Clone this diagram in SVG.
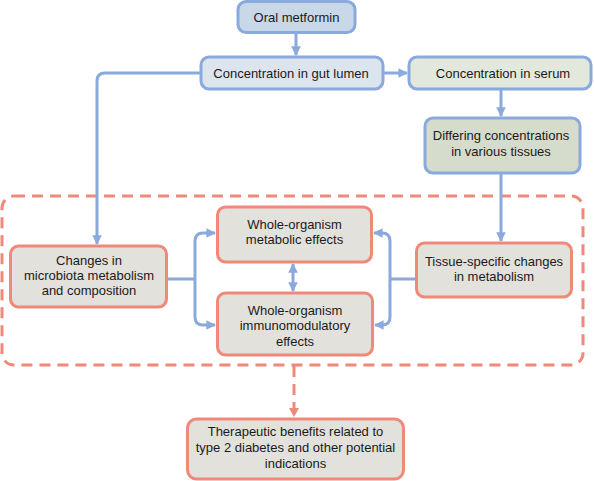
<svg xmlns="http://www.w3.org/2000/svg" width="594" height="481" viewBox="0 0 594 481">
<style>
text{font-family:"Liberation Sans",Arial,sans-serif;font-size:13px;fill:#1a1a1a;text-anchor:middle}
.b{stroke:#8aa9dc;stroke-width:3}
.o{stroke:#f0897a;stroke-width:3;fill:#e3e1dc}
.c{fill:none;stroke:#8aa9dc;stroke-width:3}
.d{fill:none;stroke:#f0897a;stroke-width:3;stroke-dasharray:11 7}
</style>
<defs>
<marker id="a" viewBox="0 0 10 10" refX="9" refY="5" markerWidth="3.2" markerHeight="3.2" orient="auto-start-reverse" markerUnits="strokeWidth">
<path d="M0,0 L10,5 L0,10 z" fill="#8aa9dc"/>
</marker>
</defs>
<rect class="d" x="2" y="196" width="581" height="169" rx="12"/>
<g id="connectors">
<path class="c" d="M296,34 V55" marker-end="url(#a)"/>
<path class="c" d="M384,73 H407" marker-end="url(#a)"/>
<path class="c" d="M501,90 V116" marker-end="url(#a)"/>
<path class="c" d="M501,173 V241" marker-end="url(#a)"/>
<path class="c" d="M201,73 H105 Q97,73 97,81 V244" marker-end="url(#a)"/>
<path class="c" d="M167,279 H195"/>
<path class="c" d="M195,279 V241 Q195,233 203,233 H215" marker-end="url(#a)"/>
<path class="c" d="M195,279 V317 Q195,325 203,325 H215" marker-end="url(#a)"/>
<path class="c" d="M416,279 H390"/>
<path class="c" d="M390,279 V241 Q390,233 382,233 H374" marker-end="url(#a)"/>
<path class="c" d="M390,279 V317 Q390,325 382,325 H375" marker-end="url(#a)"/>
<path class="c" d="M293,264 V291" marker-start="url(#a)" marker-end="url(#a)"/>
<path class="d" d="M294,366 V408" stroke-dasharray="7 5"/>
<path d="M289,408 L294,417 L299,408 z" fill="#f0897a"/>
</g>
<g id="oral">
<rect class="b" x="238" y="1.5" width="117" height="31" rx="8" fill="#c8d8e8"/>
<text x="296.5" y="21.5">Oral metformin</text>
</g>
<g id="gut">
<rect class="b" x="201" y="57" width="182" height="32" rx="8" fill="#dce5ee"/>
<text x="291" y="77.5">Concentration in gut lumen</text>
</g>
<g id="serum">
<rect class="b" x="409" y="57" width="182" height="32" rx="8" fill="#e3e8dc"/>
<text x="503" y="77.5">Concentration in serum</text>
</g>
<g id="tissues">
<rect class="b" x="425" y="118" width="155" height="55" rx="8" fill="#d5dccc"/>
<text x="501" y="140">Differing concentrations</text>
<text x="501" y="156">in various tissues</text>
</g>
<g id="microbiota">
<rect class="o" x="10.5" y="246" width="156" height="61" rx="8"/>
<text x="89" y="265">Changes in</text>
<text x="89" y="280">microbiota metabolism</text>
<text x="89" y="295">and composition</text>
</g>
<g id="metabolic">
<rect class="o" x="217.5" y="207" width="154" height="55" rx="8"/>
<text x="294.5" y="229">Whole-organism</text>
<text x="294.5" y="244">metabolic effects</text>
</g>
<g id="immuno">
<rect class="o" x="217.5" y="293" width="155" height="62" rx="8"/>
<text x="295" y="315">Whole-organism</text>
<text x="295" y="330">immunomodulatory</text>
<text x="295" y="346">effects</text>
</g>
<g id="tissue-specific">
<rect class="o" x="416.5" y="243" width="155" height="54" rx="8"/>
<text x="494" y="266">Tissue-specific changes</text>
<text x="494" y="281">in metabolism</text>
</g>
<g id="therapeutic">
<rect class="o" x="187.5" y="419" width="216" height="60" rx="9" fill="#d8b9aa"/>
<text x="295.5" y="436">Therapeutic benefits related to</text>
<text x="295.5" y="452">type 2 diabetes and other potential</text>
<text x="295.5" y="468">indications</text>
</g>
</svg>
